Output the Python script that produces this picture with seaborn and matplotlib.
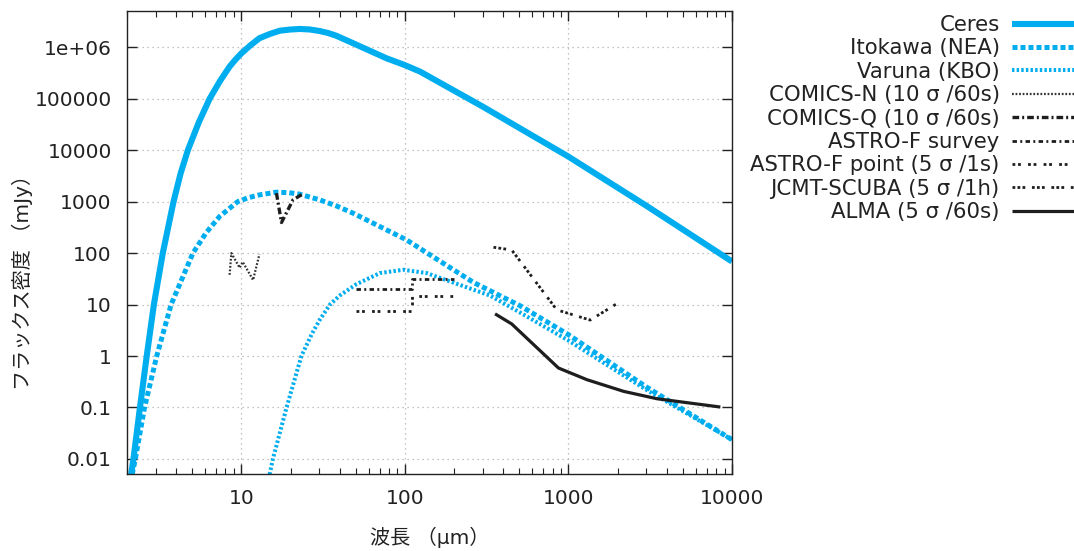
import matplotlib
matplotlib.use("Agg")
import matplotlib.pyplot as plt
import seaborn as sns
import pandas as pd
from matplotlib.ticker import FixedLocator, FixedFormatter, NullFormatter

# ---------------- data ----------------
ceres_wl = [2.12, 2.19, 2.40, 2.64, 2.92, 3.31, 3.85, 4.25, 4.71, 5.50, 6.40, 7.40, 8.47, 9.20,
            10.0, 11.4, 12.9, 14.9, 17.2, 19.8, 22.7, 26.2, 30.1, 34.0, 38.0, 48.2, 77.3, 100, 124,
            300, 1000, 3000, 10000]
ceres_f = [0.005, 0.01, 0.1, 1, 10, 100, 1000, 3500, 1e4, 3.5e4, 1e5, 2.2e5, 4.2e5, 5.75e5,
           7.6e5, 1.1e6, 1.5e6, 1.81e6, 2.1e6, 2.21e6, 2.27e6, 2.22e6, 2.07e6, 1.89e6, 1.68e6,
           1.2e6, 6.1e5, 4.5e5, 3.36e5, 7.0e4, 7.5e3, 830, 68.7]

itokawa_wl = [2.15, 2.25, 2.56, 3.04, 3.72, 5.06, 6.10, 7.36, 9.5, 11.0, 12.9, 16.4, 19.5,
              22.7, 30.1, 38.0, 48.2, 77.2, 102, 262, 506, 1000, 3000, 10000]
itokawa_f = [0.005, 0.01, 0.1, 1, 10, 100, 250, 514, 1000, 1190, 1355, 1528, 1496,
             1400, 1084, 830, 598, 283, 182, 27, 9.5, 2.6, 0.25, 0.0237]

varuna_wl = [14.9, 15.6, 18.9, 23.3, 27.0, 30.1, 34.8, 40, 50.6, 70.3, 98, 136, 164, 331, 506,
             1000, 3000, 10000]
varuna_f = [0.005, 0.01, 0.1, 1, 2.7, 5.0, 10, 15, 25, 40.9, 47.5, 40.9, 33, 15, 7.0,
            2.0, 0.22, 0.0237]

comics_n_wl = [8.48, 8.69, 9.77, 10.2, 11.8, 12.9]
comics_n_f = [37.9, 100, 51.8, 67.6, 30, 95]

comics_q_wl = [16.4, 17.6, 20.7, 23.8]
comics_q_f = [1462, 393, 1084, 1416]

astrof_survey_wl = [50, 102, 110, 110, 200]
astrof_survey_f = [20, 20, 20, 31, 31]

astrof_point_wl = [50, 102, 110, 110, 200]
astrof_point_f = [7.6, 7.6, 7.6, 14.8, 14.8]

jcmt_wl = [348, 450, 849, 1358, 1977]
jcmt_f = [130, 115, 7.9, 5.0, 10.4]

alma_wl = [356, 450, 869, 1297, 2173, 3477, 8490]
alma_f = [6.6, 4.2, 0.585, 0.347, 0.206, 0.148, 0.102]

y_ticks = [0.01, 0.1, 1, 10, 100, 1000, 1e4, 1e5, 1e6]
y_tick_labels = ["0.01", "0.1", "1", "10", "100", "1000", "10000", "100000", "1e+06"]
x_ticks = [10, 100, 1000, 10000]
x_tick_labels = ["10", "100", "1000", "10000"]

# ---------------- style ----------------
sns.set_style("ticks")
plt.rcParams["font.family"] = ["DejaVu Sans", "Noto Sans CJK JP"]
FS = 14.5
LFS = 15.3
plt.rcParams["font.size"] = FS

BLUE = "#00aeef"
BLACK = "#1e1e1e"
TXT = "#222222"

series = [
    ("Ceres", ceres_wl, ceres_f, dict(color=BLUE, lw=4.4, linestyle="-")),
    ("Itokawa (NEA)", itokawa_wl, itokawa_f, dict(color=BLUE, lw=3.6, linestyle=(0, (1.0, 0.6)))),
    ("Varuna (KBO)", varuna_wl, varuna_f, dict(color=BLUE, lw=2.9, linestyle=(0, (0.6, 0.55)))),
    ("COMICS-N (10 σ /60s)", comics_n_wl, comics_n_f, dict(color="#333333", lw=1.6, linestyle=(0, (0.8, 0.8)))),
    ("COMICS-Q (10 σ /60s)", comics_q_wl, comics_q_f, dict(color=BLACK, lw=2.4, linestyle=(0, (2.0, 0.9, 0.6, 0.9)))),
    ("ASTRO-F survey", astrof_survey_wl, astrof_survey_f, dict(color=BLACK, lw=2.0, linestyle=(0, (1.6, 1.2, 0.7, 1.2)))),
    ("ASTRO-F point (5 σ /1s)", astrof_point_wl, astrof_point_f, dict(color=BLACK, lw=2.0, linestyle=(0, (1.0, 1.0, 1.0, 2.6)))),
    ("JCMT-SCUBA (5 σ /1h)", jcmt_wl, jcmt_f, dict(color=BLACK, lw=2.0, linestyle=(0, (1.0, 0.8, 1.0, 0.8, 1.0, 2.4)))),
    ("ALMA (5 σ /60s)", alma_wl, alma_f, dict(color=BLACK, lw=2.3, linestyle="-")),
]

fig = plt.figure(figsize=(10.74, 5.51), dpi=100)
ax = fig.add_axes([127 / 1074, 1 - 474 / 551, (732 - 127) / 1074, (474 - 11) / 551])
ax.set_xscale("log")
ax.set_yscale("log")

for name, wl, f, kw in series:
    df = pd.DataFrame({"wl": wl, "f": f})
    sns.lineplot(data=df, x="wl", y="f", ax=ax, sort=False, estimator=None,
                 label=name, legend=False, solid_capstyle="butt",
                 solid_joinstyle="round", **kw)

ax.set_xlim(2.0, 10000)
ax.set_ylim(0.0051, 5.07e6)

ax.yaxis.set_major_locator(FixedLocator(y_ticks))
ax.yaxis.set_major_formatter(FixedFormatter(y_tick_labels))
ax.yaxis.set_minor_locator(FixedLocator([]))
ax.xaxis.set_major_locator(FixedLocator(x_ticks))
ax.xaxis.set_major_formatter(FixedFormatter(x_tick_labels))
minors = [m * 10 ** e for e in range(0, 4) for m in range(2, 10) if 2 <= m * 10 ** e <= 10000]
ax.xaxis.set_minor_locator(FixedLocator(minors))
ax.xaxis.set_minor_formatter(NullFormatter())

ax.tick_params(which="both", direction="in", top=True, right=True, colors=TXT,
               labelcolor=TXT, labelsize=FS)
ax.tick_params(which="major", length=7, width=1.0, pad=11)
ax.tick_params(which="minor", length=4, width=0.8)
for s in ax.spines.values():
    s.set_linewidth(1.0)
    s.set_color(TXT)
    s.set_visible(True)

ax.grid(True, which="major", linestyle=(0, (1, 3)), color="#b0b0b0", lw=0.9)
ax.set_axisbelow(True)

ax.set_xlabel("波長 （μm）", fontsize=FS, labelpad=13, color=TXT)
ax.set_ylabel("フラックス密度 （mJy）", fontsize=FS, color=TXT)
ax.yaxis.set_label_coords(-0.155, 0.424)

handles, labels = ax.get_legend_handles_labels()
leg = fig.legend(handles, labels, loc="upper right", bbox_to_anchor=(1.010, 1 - 15 / 551),
                 frameon=False, markerfirst=False, handlelength=3.4, handletextpad=0.6,
                 labelspacing=0.16, borderpad=0, borderaxespad=0, fontsize=LFS)
try:
    leg._legend_box._children[-1]._children[0].align = "right"
except Exception:
    pass
for t in leg.get_texts():
    t.set_color(TXT)

fig.savefig("out.png", dpi=100)
